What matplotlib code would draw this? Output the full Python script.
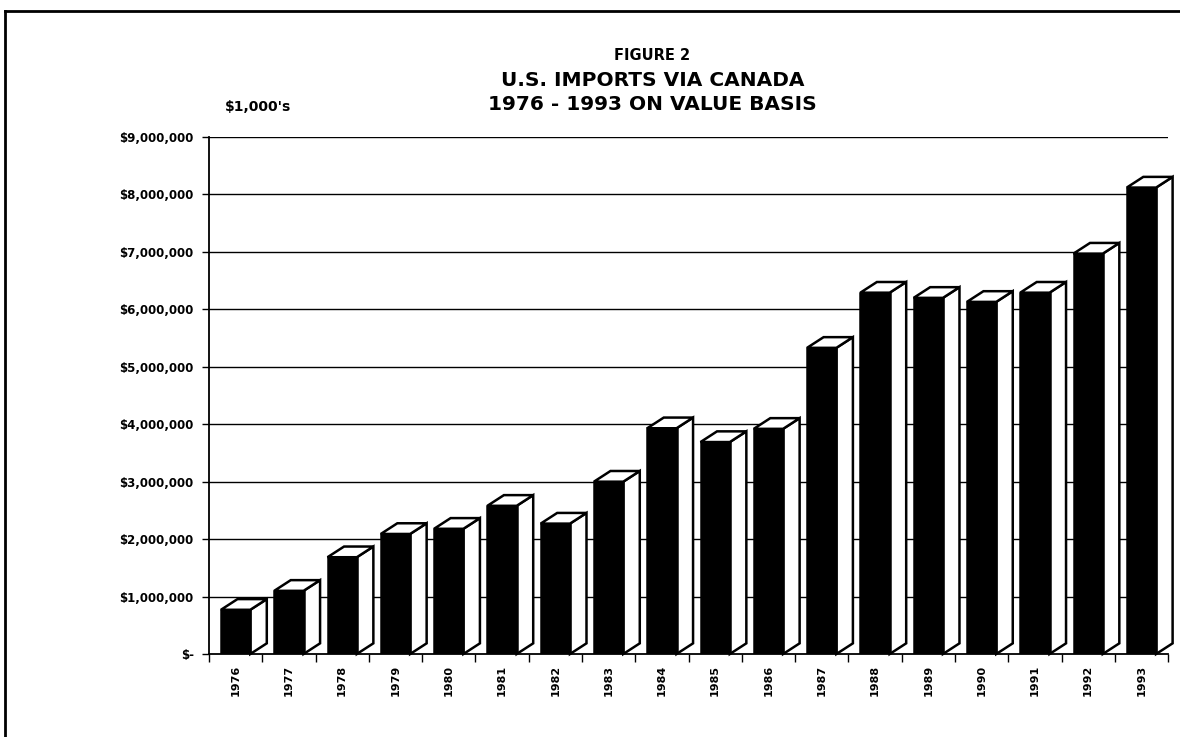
import numpy as np
import matplotlib.pyplot as plt
from matplotlib.patches import Polygon
from matplotlib.lines import Line2D
from matplotlib.ticker import FuncFormatter

plt.rcParams['font.family'] = ['DejaVu Sans']
plt.rcParams['font.weight'] = 'bold'

# --- data (in $1,000's) ---
years = [str(y) for y in range(1976, 1994)]
imports = [770000, 1100000, 1685000, 2090000, 2180000, 2580000, 2270000,
           3000000, 3930000, 3690000, 3920000, 5330000, 6290000, 6200000,
           6130000, 6290000, 6970000, 8120000]
y_ticks = [0, 1000000, 2000000, 3000000, 4000000, 5000000, 6000000,
           7000000, 8000000, 9000000]

title_lines = ["FIGURE 2", "U.S. IMPORTS VIA CANADA", "1976 - 1993 ON VALUE BASIS"]
unit_label = "$1,000's"

# fake 3-d look
BAR_W = 0.55
DX = 0.31          # depth in category units
DY = 186000        # depth in value units
EDGE = 1.8


def money(v, pos):
    if v == 0:
        return "$-"
    return "${:,.0f}".format(v)


def main():
    fig = plt.figure(figsize=(11.8, 7.37), dpi=100)
    ax = fig.add_axes([0.1771, 0.1126, 0.8128, 0.7015])

    x = np.arange(len(years)) + 0.5
    ax.set_xlim(0, len(years))
    ax.set_ylim(0, 9000000)

    # gridlines behind the bars
    for t in y_ticks[1:]:
        ax.axhline(t, color='black', lw=1.0, zorder=1)

    # front faces
    ax.bar(x, imports, width=BAR_W, color='black', edgecolor='black',
           linewidth=EDGE, zorder=3)

    # side and top faces
    for xi, v in zip(x, imports):
        r = xi + BAR_W / 2
        l = xi - BAR_W / 2
        side = Polygon([(r, 0), (r + DX, DY), (r + DX, v + DY), (r, v)],
                       closed=True, facecolor='white', edgecolor='black',
                       linewidth=EDGE, joinstyle='miter', zorder=2.5,
                       clip_on=False)
        top = Polygon([(l, v), (r, v), (r + DX, v + DY), (l + DX, v + DY)],
                      closed=True, facecolor='white', edgecolor='black',
                      linewidth=EDGE, joinstyle='miter', zorder=2.5,
                      clip_on=False)
        ax.add_patch(side)
        ax.add_patch(top)

    # axes styling
    for s in ['top', 'right']:
        ax.spines[s].set_visible(False)
    ax.spines['left'].set_linewidth(1.3)
    ax.spines['bottom'].set_linewidth(1.3)
    ax.spines['left'].set_zorder(4)
    ax.spines['bottom'].set_zorder(4)

    ax.set_yticks(y_ticks)
    ax.yaxis.set_major_formatter(FuncFormatter(money))
    ax.tick_params(axis='y', length=5, width=1.0, pad=6, labelsize=8.5)

    ax.set_xticks(x)
    ax.set_xticklabels(years, rotation=90, fontsize=8)
    ax.set_xticks(np.arange(len(years) + 1), minor=True)
    ax.tick_params(axis='x', which='major', length=0, pad=8)
    ax.tick_params(axis='x', which='minor', length=6, width=1.0, direction='out')

    # titles
    fig.text(0.553, 1 - 55 / 737, title_lines[0], ha='center', va='center',
             fontsize=10.5, fontweight='bold')
    fig.text(0.553, 1 - 80 / 737, title_lines[1], ha='center', va='center',
             fontsize=14.5, fontweight='bold')
    fig.text(0.553, 1 - 105 / 737, title_lines[2], ha='center', va='center',
             fontsize=14.5, fontweight='bold')
    fig.text(258 / 1180, 1 - 107 / 737, unit_label, ha='center', va='center',
             fontsize=10, fontweight='bold')

    # page frame (top and left edges)
    fig.add_artist(Line2D([0.004, 1.0], [0.985, 0.985], color='black',
                          lw=2.0, transform=fig.transFigure))
    fig.add_artist(Line2D([0.004, 0.004], [0.0, 0.985], color='black',
                          lw=2.0, transform=fig.transFigure))

    fig.savefig("out.png", dpi=100)


if __name__ == "__main__":
    main()
